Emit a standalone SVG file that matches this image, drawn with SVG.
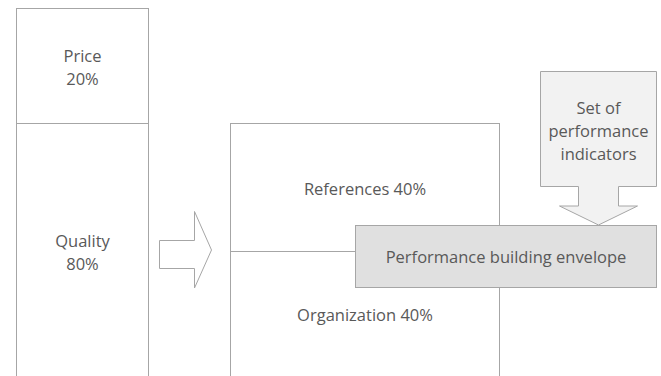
<svg xmlns="http://www.w3.org/2000/svg" width="661" height="376" viewBox="0 0 661 376">
<style>
.ln{fill:#ffffff;stroke:#a6a6a6;stroke-width:1}
.t{font-family:"Open Sans","Liberation Sans",sans-serif;font-size:16.5px;fill:#595959;text-anchor:middle;dominant-baseline:central}
</style>
<rect width="661" height="376" fill="#ffffff"/>
<g id="price">
<rect class="ln" x="16.5" y="8.5" width="132" height="115"/>
<text class="t" x="82.5" y="55">Price</text>
<text class="t" x="82.5" y="78">20%</text>
</g>
<g id="quality">
<rect class="ln" x="16.5" y="123.5" width="132" height="260"/>
<text class="t" x="82.5" y="240">Quality</text>
<text class="t" x="82.5" y="263">80%</text>
</g>
<g id="criteria">
<rect class="ln" x="230.5" y="123.5" width="269" height="260"/>
<text class="t" x="365" y="188">References 40%</text>
<text class="t" x="365" y="314">Organization 40%</text>
</g>
<g id="connectors">
<line x1="230.5" y1="251.5" x2="356" y2="251.5" stroke="#a6a6a6" stroke-width="1"/>
<path class="ln" d="M159.5,240.5 H194.5 V211.5 L211.5,250 L194.5,288 V268.5 H159.5 Z"/>
</g>
<g id="indicators">
<path d="M540.5,71.5 H656.5 V186.5 H618.5 V206 H637.5 L598.5,225 L559.5,206 H578.5 V186.5 H540.5 Z" fill="#f2f2f2" stroke="#a6a6a6" stroke-width="1"/>
<text class="t" x="598.5" y="107">Set of</text>
<text class="t" x="598.5" y="130">performance</text>
<text class="t" x="598.5" y="153">indicators</text>
</g>
<g id="envelope">
<rect x="355.5" y="225.5" width="301" height="62" fill="#e0e0e0" stroke="#a6a6a6" stroke-width="1"/>
<text class="t" x="506" y="256">Performance building envelope</text>
</g>
</svg>
